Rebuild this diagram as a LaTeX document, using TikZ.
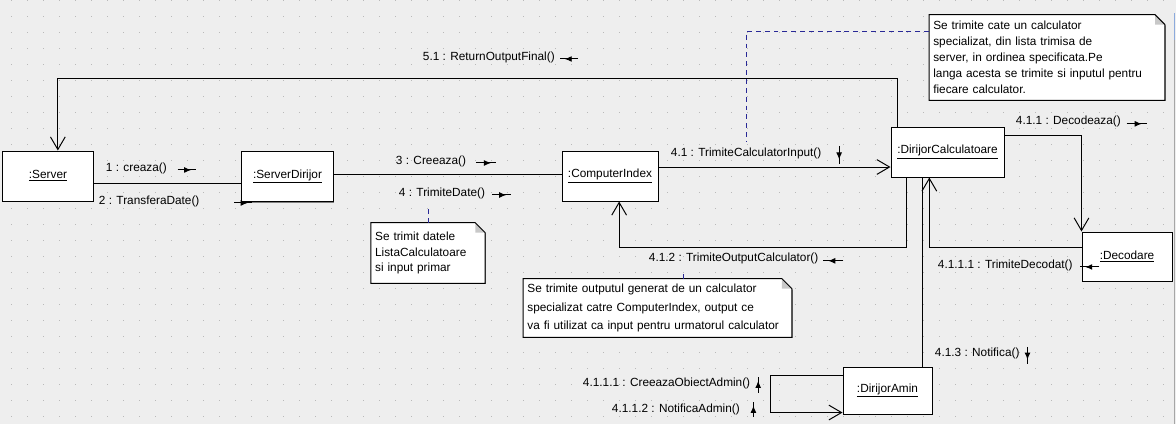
\documentclass[tikz,border=0pt]{standalone}
\usepackage{fontspec}
\setmainfont{Liberation Sans}
\usetikzlibrary{arrows.meta,decorations.markings,shadows,positioning}

\definecolor{canvas}{RGB}{238,238,238}
\definecolor{griddot}{RGB}{185,185,185}
\definecolor{notelinkblue}{RGB}{40,40,150}
\definecolor{foldgray}{RGB}{200,200,200}
\definecolor{winblue}{RGB}{140,170,220}

\tikzset{
  obj/.style={draw, fill=white, line width=0.7pt, inner sep=0pt, minimum height=1.25cm,
    drop shadow={shadow xshift=0.9pt, shadow yshift=-0.9pt, fill=black!50, opacity=1}},
  msglabel/.style={anchor=west, inner sep=0.5pt},
  msgmark/.style={line width=0.7pt,
    decoration={markings, mark=at position 0.75 with {\arrow{Latex[length=5pt,width=4.2pt]}}},
    postaction={decorate}},
  link/.style={line width=0.7pt, -{Straight Barb[length=9pt,width=10.5pt,line width=0.7pt]}},
  plainlink/.style={line width=0.7pt},
  notetext/.style={fill=white, inner xsep=2.8pt, inner ysep=0pt, align=left,
    drop shadow={shadow xshift=0.9pt, shadow yshift=-0.9pt, fill=black!50, opacity=1}},
  notelink/.style={notelinkblue, line width=0.7pt, dash pattern=on 3.5pt off 2.8pt},
}

\begin{document}
\begin{tikzpicture}[x=0.025cm, y=-0.025cm, font=\fontsize{8.4}{10}\selectfont]
% canvas with dotted grid
\fill[canvas] (0,0) rectangle (1176,424);
\useasboundingbox (0,0) rectangle (1176,424);
\foreach \gx in {11,27,...,1163}
  \foreach \gy in {0,16,...,416}
    \fill[griddot] (\gx,\gy) rectangle ++(1,1);
\draw[gray!70, line width=0.7pt] (1174,13) -- (1174,424);
\draw[winblue, line width=0.7pt] (1174,13) -- (1174,40);

% objects
\node[obj, minimum width=2.25cm] (srv) at (48,176) {\underline{:Server}};
\node[obj, minimum width=2.275cm] (sd) at (287.5,176.5) {\underline{:ServerDirijor}};
\node[obj, minimum width=2.4cm] (ci) at (610,176) {\underline{:ComputerIndex}};
\node[obj, minimum width=2.825cm] (dc) at (947.5,152) {\underline{:DirijorCalculatoare}};
\node[obj, minimum width=2.25cm, minimum height=1.225cm] (dec) at (1127,256.5) {\underline{:Decodare}};
\node[obj, minimum width=2.225cm, minimum height=1.175cm] (da) at (887.5,390.5) {\underline{:DirijorAmin}};

% links
\draw[plainlink] ([yshift=-5pt]srv.east) -- ([yshift=-5pt]srv.east -| sd.west);
\draw[plainlink] ([yshift=1.4pt]sd.east) -- ([yshift=1.4pt]sd.east -| ci.west);
\draw[link] ([yshift=6.4pt]ci.east) -- ([yshift=6.4pt]ci.east -| dc.west);
\draw[link] ([xshift=11.3pt]dc.south west) -- ++(0,70) -| ([xshift=41pt]ci.south west);
\draw[link] ([yshift=12pt]dc.east) -| (dec.north west);
\draw[link] ([yshift=6.7pt]dec.west) -| ([xshift=27.6pt]dc.south west);
\draw[plainlink] ([xshift=22.7pt]dc.south west) -- ([xshift=22.7pt]dc.south west |- da.north);
\draw[link] ([yshift=11pt]da.west) -- ++(-72,0) |- ([yshift=1.4pt]da.south west);
\draw[link] ([xshift=5pt]dc.north west) -- ++(0,-48) -| ([xshift=7pt]srv.north);

% messages
\node[msglabel] (l1) at (105,168) {1 : creaza()};
\node[msglabel] (l2) at (98,201) {2 : TransferaDate()};
\node[msglabel] (l3) at (395,161) {3 : Creeaza()};
\node[msglabel] (l4) at (398,193) {4 : TrimiteDate()};
\node[msglabel] (l41) at (670,153) {4.1 : TrimiteCalculatorInput()};
\node[msglabel] (l412) at (648,258) {4.1.2 : TrimiteOutputCalculator()};
\node[msglabel] (l411) at (1015,121) {4.1.1 : Decodeaza()};
\node[msglabel] (l4111) at (937,265) {4.1.1.1 : TrimiteDecodat()};
\node[msglabel] (l413) at (934,353) {4.1.3 : Notifica()};
\node[msglabel] (l4111a) at (582,383) {4.1.1.1 : CreeazaObiectAdmin()};
\node[msglabel] (l4112) at (611,409) {4.1.1.2 : NotificaAdmin()};
\node[msglabel] (l51) at (422,57) {5.1 : ReturnOutputFinal()};

\draw[msgmark] ([xshift=7pt,yshift=-1.4pt]l1.east) -- ++(18,0);
\draw[msgmark] ([xshift=24pt,yshift=-1.4pt]l2.east) -- ++(18,0);
\draw[msgmark] ([xshift=6.4pt,yshift=-1.4pt]l3.east) -- ++(20,0);
\draw[msgmark] ([xshift=4.3pt,yshift=-1.4pt]l4.east) -- ++(19,0);
\draw[msgmark] ([xshift=12pt,yshift=5pt]l41.east) -- ++(0,18);
\draw[msgmark] ([xshift=17pt,yshift=-2pt]l412.east) -- ++(-20,0);
\draw[msgmark] ([xshift=3.5pt,yshift=-2pt]l411.east) -- ++(20,0);
\draw[msgmark] ([xshift=18.4pt,yshift=-1.4pt]l4111.east) -- ++(-19,0);
\draw[msgmark] ([xshift=5pt,yshift=4.3pt]l413.east) -- ++(0,17);
\draw[msgmark] ([xshift=5pt,yshift=-7pt]l4111a.east) -- ++(0,-16);
\draw[msgmark] ([xshift=9pt,yshift=-5.7pt]l4112.east) -- ++(0,-15);
\draw[msgmark] ([xshift=16pt,yshift=-1.4pt]l51.east) -- ++(-18,0);

% notes
\node[notetext, text width=75.2pt, minimum height=1.5cm, font=\fontsize{8.4}{11}\selectfont] (n1) at (428,253)
  {Se trimit datele\\ListaCalculatoare\\si input primar};
\node[notetext, text width=161.7pt, minimum height=2.125cm, font=\fontsize{8.4}{11.3}\selectfont] (n2) at (1047,57.5)
  {Se trimite cate un calculator\\specializat, din lista trimisa de\\server, in ordinea specificata.Pe\\langa acesta se trimite si inputul pentru\\fiecare calculator.};
\node[notetext, text width=185pt, minimum height=1.45cm, font=\fontsize{8.4}{13}\selectfont] (n3) at (657.5,308)
  {Se trimite outputul generat de un calculator\\specializat catre ComputerIndex, output ce\\va fi utilizat ca input pentru urmatorul calculator};
\foreach \n in {n1,n2,n3} {
  \fill[canvas] ([xshift=-7pt]\n.north east) -- ([xshift=1.6pt]\n.north east)
    -- ([xshift=1.6pt,yshift=-8.6pt]\n.north east) -- ([yshift=-7pt]\n.north east) -- cycle;
  \fill[foldgray] ([xshift=-7pt]\n.north east) -- ([xshift=-7pt,yshift=-7pt]\n.north east)
    -- ([yshift=-7pt]\n.north east) -- cycle;
  \draw[line width=0.7pt] (\n.north west) -- ([xshift=-7pt]\n.north east) -- ([yshift=-7pt]\n.north east)
    -- (\n.south east) -- (\n.south west) -- cycle;
}
\draw[notelink] (n1.north) -- ([yshift=-6pt]n1.north |- l4.south);
\draw[notelink] ([yshift=-12pt]n2.north west) -| ([yshift=3pt]l41.north);
\draw[notelink] ([xshift=18.8pt]n3.north) -- ([xshift=18.8pt,yshift=-5pt]n3.north |- l412.south);
\end{tikzpicture}
\end{document}
